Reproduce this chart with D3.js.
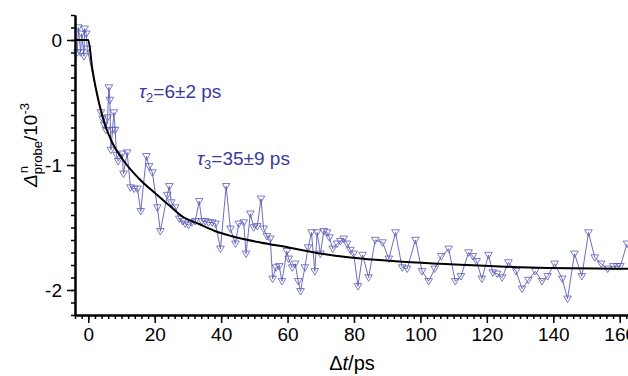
<!DOCTYPE html>
<html>
<head>
<meta charset="utf-8">
<script src="https://cdn.jsdelivr.net/npm/d3@7"></script>
<style>
  body { margin: 0; background: #fff; }
  svg text { font-family: "Liberation Sans", Arial, sans-serif; }
</style>
</head>
<body>
<svg id="chart" width="628" height="376"></svg>
<script>
// delay times (ps) and measured signal (10^-3)
var delayT = [
  -3.3, -3.0, -2.3, -2.0, -1.3, -1.1, -0.6, -0.3,
  3.8, 4.3, 4.8, 5.3, 5.8, 6.2, 6.5, 6.8, 7.3, 7.7, 8.1, 8.5, 9.0,
  10.2, 10.6, 11.7, 12.7, 13.8, 14.8, 15.8, 17.5, 18.3, 19.3, 20.8, 21.7,
  23.8, 24.4, 25.0, 26.2, 27.4, 28.4, 29.2, 30.2, 31.2, 32.2, 33.4, 34.2,
  35.2, 36.2, 37.3, 38.3, 39.8, 41.5, 42.8, 44.3, 45.3, 46.8, 47.5, 48.8,
  49.8, 50.9, 52.0, 52.8, 53.8, 54.8, 55.5, 56.5, 57.5, 58.3, 59.8, 60.3,
  61.4, 62.3, 63.2, 63.9, 65.2, 66.2, 67.2, 68.2, 68.9, 69.9, 70.9, 71.9,
  72.6, 73.6, 74.9, 75.9, 76.9, 77.9, 78.9, 79.9, 81.2, 82.6, 84.4, 86.4,
  88.6, 90.5, 92.5, 94.5, 96.0, 98.5, 100.5, 102.5, 104.3, 106.3, 108.5,
  110.5, 112.2, 114.5, 115.8, 116.9, 118.5, 120.5, 121.8, 123.1, 124.6,
  126.5, 128.8, 130.6, 132.5, 134.6, 136.6, 138.3, 140.4, 142.7, 144.3,
  146.4, 148.6, 150.6, 152.5, 154.4, 156.4, 158.1, 159.2, 160.2, 162.2
];
var signal = [
  -0.10, 0.10, -0.10, 0.05, -0.13, 0.09, 0.05, -0.07,
  -0.58, -0.63, -0.68, -0.72, -0.62, -0.38, -0.48, -0.88, -0.72, -0.58, -0.72, -0.92, -0.97,
  -0.91, -1.07, -0.90, -1.18, -1.19, -1.19, -1.37, -0.93, -1.01, -1.06, -1.34, -1.53,
  -1.24, -1.17, -1.30, -1.34, -1.43, -1.45, -1.47, -1.48, -1.46, -1.45, -1.29, -1.45,
  -1.45, -1.46, -1.46, -1.47, -1.67, -1.17, -1.51, -1.63, -1.47, -1.46, -1.71, -1.39,
  -1.50, -1.49, -1.27, -1.51, -1.57, -1.59, -1.91, -1.82, -1.81, -1.93, -1.69, -1.75,
  -1.82, -1.79, -1.93, -2.01, -1.82, -1.66, -1.54, -1.85, -1.54, -1.71, -1.53, -1.54,
  -1.58, -1.67, -1.63, -1.61, -1.59, -1.63, -1.68, -1.71, -1.97, -1.72, -1.90, -1.60,
  -1.62, -1.75, -1.54, -1.82, -1.83, -1.60, -1.85, -1.93, -1.83, -1.73, -1.67,
  -1.93, -1.89, -1.70, -1.73, -1.77, -1.91, -1.72, -1.86, -1.87, -1.90,
  -1.78, -1.85, -1.99, -1.92, -1.85, -1.93, -1.89, -1.79, -1.91, -2.07,
  -1.71, -1.89, -1.54, -1.74, -1.79, -1.83, -1.81, -1.81, -1.81, -1.63
];

// fit curve
var fitT = [-4, 0, 1.2, 3.2, 5.2, 7.2, 10.2, 15.3, 20.3, 24.7, 28.2, 33.2, 38.3,
  43.3, 51.8, 60.3, 70.4, 78.9, 92.5, 106, 133, 163];
var fitV = [0, 0, -0.23, -0.50, -0.69, -0.82, -0.95, -1.11, -1.23, -1.33, -1.41,
  -1.47, -1.53, -1.57, -1.62, -1.66, -1.71, -1.74, -1.77, -1.79, -1.82, -1.83];

var xTicks = [0, 20, 40, 60, 80, 100, 120, 140, 160];
var yTicks = [0, -1, -2];

var svg = d3.select('#chart');
var blue = '#5b5bb8';
var textBlue = '#3a3a9c';

var x = d3.scaleLinear().domain([-4, 162.5]).range([75, 628]);
var y = d3.scaleLinear().domain([-2.2, 0.2]).range([315, 15]);

var points = delayT.map(function(t, i) { return [t, signal[i]]; });
var fit = fitT.map(function(t, i) { return [t, fitV[i]]; });

var plot = svg.append('g');

// data trace
plot.append('path')
  .datum(points)
  .attr('fill', 'none')
  .attr('stroke', blue)
  .attr('stroke-width', 0.9)
  .attr('d', d3.line()
    .x(function(d) { return x(d[0]); })
    .y(function(d) { return y(d[1]); }));

plot.selectAll('path.marker')
  .data(points)
  .enter().append('path')
  .attr('class', 'marker')
  .attr('transform', function(d) {
    return 'translate(' + x(d[0]) + ',' + y(d[1]) + ')';
  })
  .attr('d', 'M-3.8,-2.7L3.8,-2.7L0,3.8Z')
  .attr('fill', 'none')
  .attr('stroke', blue)
  .attr('stroke-width', 0.8);

// fit
plot.append('path')
  .datum(fit)
  .attr('fill', 'none')
  .attr('stroke', '#000')
  .attr('stroke-width', 2)
  .attr('d', d3.line()
    .curve(d3.curveMonotoneX)
    .x(function(d) { return x(d[0]); })
    .y(function(d) { return y(d[1]); }));

// axes
var minorY = d3.range(-22, 3).map(function(i) { return i / 10; });
var minorX = d3.range(-4, 163, 2);

function styleAxis(g) {
  g.select('.domain').attr('stroke-width', 2);
  g.selectAll('.tick line').attr('stroke-width', 1.5);
  g.selectAll('.tick text')
    .attr('font-size', 19)
    .attr('font-family', '"Liberation Sans", Arial, sans-serif')
    .attr('fill', '#000');
}

svg.append('g')
  .attr('transform', 'translate(75,0)')
  .call(d3.axisLeft(y).tickValues(minorY).tickSize(4).tickFormat('').tickSizeOuter(0))
  .call(styleAxis);
svg.append('g')
  .attr('transform', 'translate(75,0)')
  .call(d3.axisLeft(y).tickValues(yTicks).tickSize(8).tickPadding(5)
    .tickFormat(function(d) { return String(d); }).tickSizeOuter(0))
  .call(styleAxis);

svg.append('g')
  .attr('transform', 'translate(0,315)')
  .call(d3.axisBottom(x).tickValues(minorX).tickSize(4).tickFormat('').tickSizeOuter(0))
  .call(styleAxis);
svg.append('g')
  .attr('transform', 'translate(0,315)')
  .call(d3.axisBottom(x).tickValues(xTicks).tickSize(8).tickPadding(5).tickSizeOuter(0))
  .call(styleAxis);

// x label
var xl = svg.append('text')
  .attr('x', 352)
  .attr('y', 370)
  .attr('text-anchor', 'middle')
  .attr('font-size', 20);
xl.append('tspan').text('Δ');
xl.append('tspan').attr('font-style', 'italic').text('t');
xl.append('tspan').text('/ps');

// y label, stacked sub/superscript
var yl = svg.append('g');
var big = 19, small = 13;
var p0 = yl.append('text').attr('font-size', big).attr('font-style', 'italic').text('Δ');
var w0 = p0.node().getComputedTextLength();
var p1 = yl.append('text').attr('font-size', small).attr('x', w0).attr('y', 5).text('probe');
var w1 = p1.node().getComputedTextLength();
yl.append('text').attr('font-size', small).attr('x', w0 + 1).attr('y', -9).text('n');
var p3 = yl.append('text').attr('font-size', big).attr('x', w0 + w1).text('/10');
var w3 = p3.node().getComputedTextLength();
var p4 = yl.append('text').attr('font-size', small).attr('x', w0 + w1 + w3).attr('y', -8).text('-3');
var w4 = p4.node().getComputedTextLength();
var total = w0 + w1 + w3 + w4;
yl.attr('transform', 'translate(37,' + (145 + total / 2) + ') rotate(-90)');

// annotations
function tauLabel(px, py, sub, rest) {
  var t = svg.append('text')
    .attr('x', px)
    .attr('y', py)
    .attr('font-size', 19)
    .attr('fill', textBlue);
  t.append('tspan').attr('font-style', 'italic').text('τ');
  t.append('tspan').attr('font-size', 13).attr('dy', 4).text(sub);
  t.append('tspan').attr('dy', -4).text(rest);
}
tauLabel(139, 98, '2', '=6±2 ps');
tauLabel(197, 165, '3', '=35±9 ps');
</script>
</body>
</html>
